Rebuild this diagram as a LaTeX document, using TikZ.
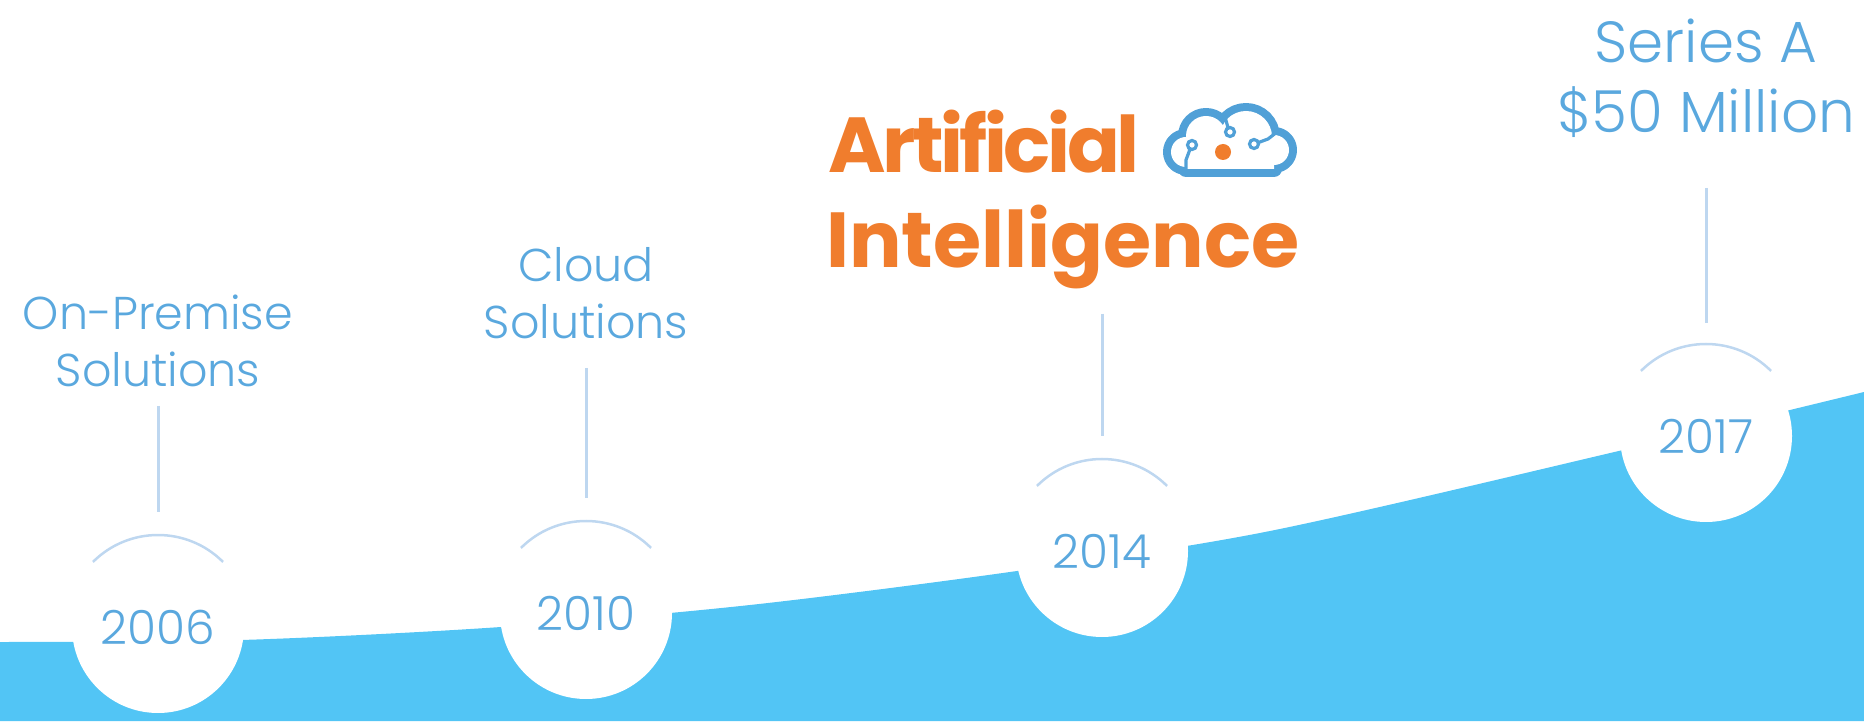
\documentclass[tikz,border=0pt]{standalone}
\usepackage{fontspec}
\IfFontExistsTF{Poppins Light}{\setmainfont{Poppins Light}}{\setmainfont{Poppins}}
\newfontfamily\aifont{Poppins}
\usetikzlibrary{positioning}

\definecolor{skyfill}{HTML}{52C5F5}
\definecolor{textblue}{HTML}{5AA8DE}
\definecolor{stemblue}{HTML}{BED7F0}
\definecolor{aiorange}{HTML}{F07D2D}
\definecolor{cloudblue}{HTML}{50A0D7}

\begin{document}
\begin{tikzpicture}[
            x=1pt, y=1pt,
            year/.style={circle, fill=white, minimum size=172pt, inner sep=0pt,
                text=textblue, font=\fontsize{47}{56}\selectfont
            },
            milestone/.style={align=center, inner sep=0pt, text=textblue,
                font=\fontsize{46}{57}\selectfont
            },
            ai/.style={inner sep=0pt, text=aiorange,
                font=\aifont\bfseries\fontsize{78}{95}\selectfont
            },
            stem/.style={draw=stemblue, line width=3pt, shorten >=29pt},
            rim/.style={draw=stemblue, line width=2.5pt},
            ring/.style={draw=cloudblue, line width=3.2pt}
        ]
            \useasboundingbox (0,0) rectangle (1864,721);

            % nền xanh
            \fill [skyfill] (0,0) -- plot [smooth] coordinates {(0,79) (241,81) (501,94) (750,116) (1017,150) (1270,190) (1623,271) (1864,329)} -- (1864,0) -- cycle;

            % các năm
            \node [year] (yr06) at (158,94) {2006};
            \node [year] (yr10) at (586,108) {2010};
            \node [year] (yr14) at (1102,170) {2014};
            \node [year] (yr17) at (1706,285) {2017};
            \foreach \yr in {yr06,yr10,yr14,yr17}
                \draw [rim] ([shift={(135:92)}]\yr.center) arc [start angle=135, end angle=45, radius=92];

            % các mốc
            \node [milestone, above=154pt of yr06] (onprem) {On-Premise\\Solutions};
            \node [milestone, above=188pt of yr10] (cloud) {Cloud\\Solutions};
            \node [milestone, above=212pt of yr17, font=\fontsize{58}{70}\selectfont] (seriesa) {Series A\\\$50 Million};
            \node [ai, anchor=base west] (artificial) at (828,548) {\addfontfeatures{LetterSpace=-4.5}Artificial};
            \node [ai, anchor=base west] (intelligence) at (826,453) {Intelligence};

            \draw [stem, shorten <=19pt] (onprem) -- (yr06);
            \draw [stem, shorten <=29pt] (cloud) -- (yr10);
            \draw [stem, shorten <=24pt] (yr14 |- intelligence.south) -- (yr14);
            \draw [stem, shorten <=50pt, shorten >=27pt] (seriesa) -- (yr17);

            % biểu tượng đám mây
            \begin{scope}[shift={(1230,549)}]
                \draw [cloudblue, line width=16pt, line join=round] (-44,20) circle (15) (-24,36) circle (20) (16,35) circle (26) (44,22) circle (15) (44,3) rectangle (-44,30);
                \fill [white] (-44,20) circle (15) (-24,36) circle (20) (16,35) circle (26) (44,22) circle (15) (44,3) rectangle (-44,30);
                \draw [ring] (0,40) circle (4.5) (-38,27) circle (4.5) (24,28) circle (4.5);
                \draw [ring] (-2,44.5) -- (-5,55);
                \draw [ring] (-40,22.8) -- (-44,12) -- (-44,-1);
                \draw [ring] (28.5,29.5) -- (38,33) -- (47,40);
                \fill [aiorange] (-7,20) circle (8);
            \end{scope}
        \end{tikzpicture}
\end{document}
